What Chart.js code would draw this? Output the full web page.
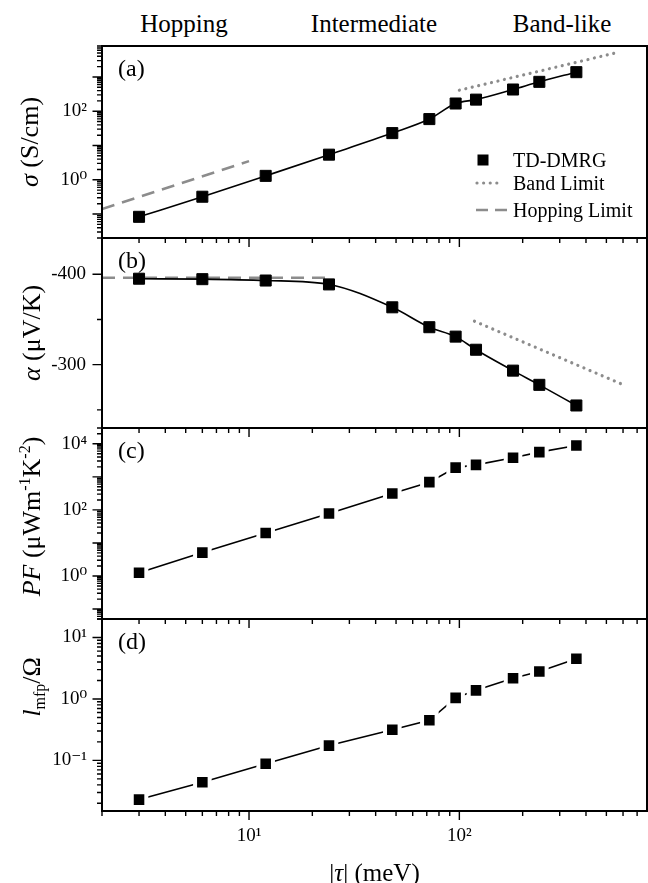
<!DOCTYPE html>
<html>
<head>
<meta charset="utf-8">
<script src="https://cdn.jsdelivr.net/npm/chart.js@4.4.1/dist/chart.umd.min.js"></script>
<style>
  html, body { margin: 0; background: #fff; }
  #wrap { position: relative; width: 648px; height: 883px; }
  #wrap canvas { position: absolute; left: 0; top: 0; }
  .regime { position: absolute; top: 10px; line-height: 28px; font: 25px "Liberation Serif", serif; color: #000; transform: translateX(-50%); white-space: nowrap; }
</style>
</head>
<body>
<div id="wrap">
  <div class="regime" style="left:184px">Hopping</div>
  <div class="regime" style="left:374px">Intermediate</div>
  <div class="regime" style="left:562px">Band-like</div>
  <canvas id="panelA" width="648" height="883"></canvas>
  <canvas id="panelB" width="648" height="883"></canvas>
  <canvas id="panelC" width="648" height="883"></canvas>
  <canvas id="panelD" width="648" height="883"></canvas>
</div>
<script>
// ---- data ----
const tau = [3, 6, 12, 24, 48, 72, 96, 120, 180, 240, 360];
const sigma = [0.083, 0.32, 1.3, 5.4, 23, 59, 168, 218, 430, 720, 1380];
const alpha = [-395, -394.5, -393, -388.7, -363.4, -341.4, -331, -316.5, -293.4, -277.7, -254.9];
const pf = [1.26, 5.1, 20, 78, 315, 690, 1900, 2300, 3800, 5600, 8900];
const lmfp = [0.023, 0.044, 0.088, 0.174, 0.315, 0.45, 1.04, 1.38, 2.17, 2.8, 4.5];

// limits
const sigmaHopTau = [2, 10];
const sigmaHop = [0.14, 3.5];
const sigmaBandTau = [100, 566];
const sigmaBand = [410, 5200];
const alphaHopTau = [2, 24];
const alphaHop = [-396, -396];
const alphaBandTau = [118, 585];
const alphaBand = [-348, -279];

// tick labels
const tauTickExps = [1, 2];
const sigmaTickExps = [0, 2];
const alphaTickLabels = [-400, -300];
const alphaTicks = [-400, -350, -300, -250];
const pfTickExps = [0, 2, 4];
const lmfpTickExps = [-1, 0, 1];

const SERIF = '"Liberation Serif", "DejaVu Serif", serif';
const GREY = '#8c8c8c';
const SUP = { '-': '⁻', '0': '⁰', '1': '¹', '2': '²', '3': '³', '4': '⁴' };

const isDecade = v => Math.abs(Math.log10(v) - Math.round(Math.log10(v))) < 1e-6;

function logTicks(min, max) {
  const out = [];
  for (let e = Math.floor(Math.log10(min)); e <= Math.ceil(Math.log10(max)); e++) {
    for (let m = 1; m <= 9; m++) {
      const v = Number((m * Math.pow(10, e)).toPrecision(6));
      if (v >= min * 0.9999 && v <= max * 1.0001) out.push({ value: v });
    }
  }
  return out;
}

function decadeLabel(v, exps) {
  if (!isDecade(v)) return '';
  const e = Math.round(Math.log10(v));
  if (!exps.includes(e)) return '';
  return '10' + String(e).split('').map(c => SUP[c]).join('');
}

const pts = (xs, ys) => xs.map((x, i) => ({ x, y: ys[i] }));

function dmrg(ys, smooth, gap) {
  return {
    label: 'TD-DMRG', data: pts(tau, ys),
    borderColor: '#000', borderWidth: 1.6,
    pointStyle: 'rect', pointRadius: gap ? 10.3 : 7.8,
    pointBackgroundColor: '#000', pointBorderColor: gap ? '#fff' : '#000', pointBorderWidth: gap ? 4 : 1,
    cubicInterpolationMode: smooth ? 'monotone' : 'default', tension: 0
  };
}
function bandLine(xs, ys) {
  return { label: 'Band Limit', data: pts(xs, ys), borderColor: GREY, borderWidth: 3.2,
    borderDash: [0.01, 6.6], borderCapStyle: 'round', pointRadius: 0, tension: 0 };
}
function hopLine(xs, ys) {
  return { label: 'Hopping Limit', data: pts(xs, ys), borderColor: GREY, borderWidth: 2.5,
    borderDash: [13, 8], pointRadius: 0, tension: 0 };
}

// ---- rich text for axis titles ----
function richText(ctx, parts, x, y, size, rotate, align) {
  const fontFor = p => `${p[1] && p[1].includes('i') ? 'italic ' : ''}${p[1] && /su[bp]/.test(p[1]) ? Math.round(size * 0.62) : size}px ${SERIF}`;
  let w = 0;
  const widths = parts.map(p => { ctx.font = fontFor(p); const m = ctx.measureText(p[0]).width; w += m; return m; });
  ctx.save();
  ctx.translate(x, y);
  if (rotate) ctx.rotate(-Math.PI / 2);
  ctx.textBaseline = 'alphabetic';
  ctx.textAlign = 'left';
  let cx = align === 'left' ? 0 : -w / 2;
  parts.forEach((p, i) => {
    ctx.font = fontFor(p);
    let dy = size * 0.33;
    if (p[1] && p[1].includes('sub')) dy += size * 0.22;
    if (p[1] && p[1].includes('sup')) dy -= size * 0.38;
    ctx.fillText(p[0], cx, dy);
    cx += widths[i];
  });
  ctx.restore();
}

const deco = {
  panelA: { tag: 'a', yLog: true, titleX: 29, shift: 0, legend: true,
    title: [['σ', 'i'], [' (S/cm)']] },
  panelB: { tag: 'b', yLog: false, titleX: 31, shift: 0,
    title: [['α', 'i'], [' (μV/K)']] },
  panelC: { tag: 'c', yLog: true, titleX: 31, shift: -7,
    title: [['PF', 'i'], [' (μWm'], ['-1', 'sup'], ['K'], ['-2', 'sup'], [')']] },
  panelD: { tag: 'd', yLog: true, titleX: 31, shift: -28, xTitle: true,
    title: [['l', 'i'], ['mfp', 'sub'], ['/Ω']] }
};

const panelDeco = {
  id: 'panelDeco',
  afterDatasetsDraw(chart) {
    const o = deco[chart.canvas.id];
    const { ctx, chartArea: a, scales: { x, y } } = chart;
    ctx.save();
    ctx.strokeStyle = '#000';
    ctx.fillStyle = '#000';
    ctx.lineWidth = 1.4;
    ctx.beginPath();
    x.ticks.forEach(t => {
      const p = x.getPixelForValue(t.value);
      const L = isDecade(t.value) ? 9 : 5;
      ctx.moveTo(p, a.bottom); ctx.lineTo(p, a.bottom + L);
    });
    y.ticks.forEach(t => {
      const p = y.getPixelForValue(t.value);
      const major = o.yLog ? isDecade(t.value) : t.value % 100 === 0;
      const L = major ? 9.5 : 5;
      ctx.moveTo(a.left, p); ctx.lineTo(a.left - L, p);
    });
    ctx.stroke();
    ctx.lineWidth = 2;
    ctx.strokeRect(a.left, a.top, a.right - a.left, a.bottom - a.top);

    richText(ctx, [['(' + o.tag + ')']], a.left + 16, a.top + 22, 24, false, 'left');
    richText(ctx, o.title, o.titleX, (a.top + a.bottom) / 2 + o.shift, 26, true);
    if (o.xTitle) richText(ctx, [['|'], ['τ', 'i'], ['| (meV)']], (a.left + a.right) / 2, 873, 25, false);

    if (o.legend) {
      const lx = a.right - 170, ty = a.right - 134;
      const rows = [a.top + 114, a.top + 137, a.top + 164];
      ctx.fillRect(lx + 0.5, rows[0] - 5.5, 11, 11);
      ctx.strokeStyle = GREY;
      ctx.lineCap = 'round';
      ctx.lineWidth = 3.2;
      ctx.setLineDash([0.01, 6.6]);
      ctx.beginPath(); ctx.moveTo(lx, rows[1]); ctx.lineTo(lx + 23, rows[1]); ctx.stroke();
      ctx.lineCap = 'butt';
      ctx.lineWidth = 2.5;
      ctx.setLineDash([12, 7]);
      ctx.beginPath(); ctx.moveTo(lx - 1, rows[2]); ctx.lineTo(lx + 30, rows[2]); ctx.stroke();
      ctx.setLineDash([]);
      ['TD-DMRG', 'Band Limit', 'Hopping Limit'].forEach((s, i) => richText(ctx, [[s]], ty, rows[i], 20, false, 'left'));
    }
    ctx.restore();
  }
};

const tickFont = { family: SERIF, size: 19 };

function makePanel(id, cfg) {
  return new Chart(document.getElementById(id), {
    type: 'line',
    data: { datasets: cfg.datasets },
    options: {
      responsive: false, animation: false, events: [],
      layout: { autoPadding: false, padding: { top: cfg.top, bottom: cfg.bottomPad, left: 0, right: 1 } },
      plugins: { legend: { display: false }, tooltip: { enabled: false } },
      scales: {
        x: {
          type: 'logarithmic', min: 2, max: 780,
          afterFit: s => { s.height = cfg.xHeight; s.paddingLeft = 0; s.paddingRight = 0; },
          afterBuildTicks: s => { s.ticks = logTicks(2, 780); },
          grid: { display: false, drawTicks: false }, border: { display: false },
          ticks: { display: cfg.xLabels, autoSkip: false, maxRotation: 0, padding: 14, color: '#000', font: tickFont,
            callback: v => decadeLabel(v, tauTickExps) }
        },
        y: Object.assign({
          position: 'left',
          afterFit: s => { s.width = 102; },
          grid: { display: false, drawTicks: false }, border: { display: false },
        }, cfg.y)
      }
    },
    plugins: [panelDeco]
  });
}

function logY(min, max, exps) {
  return {
    type: 'logarithmic', min, max,
    afterBuildTicks: s => { s.ticks = logTicks(min, max); },
    ticks: { autoSkip: false, padding: 15, color: '#000', font: tickFont, callback: v => decadeLabel(v, exps) }
  };
}

makePanel('panelA', {
  top: 46, bottomPad: 883 - 238, xHeight: 0, xLabels: false,
  datasets: [dmrg(sigma, true, false), bandLine(sigmaBandTau, sigmaBand), hopLine(sigmaHopTau, sigmaHop)],
  y: logY(0.02, 8000, sigmaTickExps)
});

makePanel('panelB', {
  top: 238, bottomPad: 883 - 428, xHeight: 0, xLabels: false,
  datasets: [dmrg(alpha, true, false), bandLine(alphaBandTau, alphaBand), hopLine(alphaHopTau, alphaHop)],
  y: {
    type: 'linear', min: -440, max: -230, reverse: true,
    afterBuildTicks: s => { s.ticks = alphaTicks.map(v => ({ value: v })); },
    ticks: { autoSkip: false, padding: 16, color: '#000', font: tickFont,
      callback: v => alphaTickLabels.includes(v) ? String(v) : '' }
  }
});

makePanel('panelC', {
  top: 428, bottomPad: 883 - 619, xHeight: 0, xLabels: false,
  datasets: [dmrg(pf, false, true)],
  y: logY(0.05, 30000, pfTickExps)
});

makePanel('panelD', {
  top: 619, bottomPad: 0, xHeight: 883 - 811, xLabels: true,
  datasets: [dmrg(lmfp, false, true)],
  y: logY(0.015, 20, lmfpTickExps)
});
</script>
</body>
</html>
